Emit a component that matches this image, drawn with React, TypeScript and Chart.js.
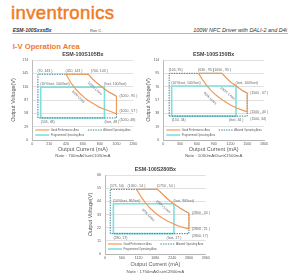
import React, { useEffect, useRef } from "react";
import { Chart, registerables } from "chart.js";

Chart.register(...registerables);

type XY = [number, number];
type Tag = [number, number, string, string];
type Slant = [number, number, string, number];

const FONT = "'Liberation Sans', Arial, sans-serif";
const ORANGE = "#f39a58";
const CYAN = "#7fdfdf";
const DOTTED = "#3a7c8e";
const TEXT = "#585858";

// ---------- ESM-100S105Bx ----------
const s105CurrentTicks = [0, 210, 420, 630, 840, 1050, 1260];
const s105VoltageTicks = [0, 29, 58, 87, 116, 145, 174];
const s105Good: XY[] = [
  [420, 143], [700, 143], [750, 133], [800, 125], [850, 118], [900, 111], [950, 105], [1000, 100], [1050, 95],
  [1050, 57], [960, 63], [900, 67], [840, 71], [780, 77], [720, 83], [660, 91], [600, 100], [540, 111], [480, 125], [420, 143],
];
const s105Allowed: XY[] = [
  [70, 48], [70, 143], [700, 143], [750, 133], [800, 125], [850, 118], [900, 111], [950, 105], [1000, 100], [1050, 95],
  [1050, 48], [70, 48],
];
const s105Programmed: XY[] = [[105, 48], [105, 115], [900, 115], [900, 48], [105, 48]];
const s105Tags: Tag[] = [
  [70, 143, "(70, 143 )", "n"],
  [420, 143, "(420, 143 )", "n"],
  [700, 143, "(700, 143 )", "ne2"],
  [105, 115, "(10%Iset, 100/Iset)", "n"],
  [900, 115, "(Iset, 100/Iset)", "n"],
  [1050, 95, "(1050 , 95 )", "e"],
  [1050, 57, "(1050 , 57 )", "ne"],
  [1050, 48, "(1050, 48)", "se"],
  [105, 48, "(105, 48)", "s"],
  [900, 48, "(Iset, 48 )", "s"],
];
const s105Slants: Slant[] = [
  [780, 112, "100% Lines", 42],
  [575, 94, "60% Lines", 44],
];

// ---------- ESM-100S150Bx ----------
const s150CurrentTicks = [0, 300, 600, 900, 1200, 1500, 1800];
const s150VoltageTicks = [0, 19, 38, 57, 76, 95, 114];
const s150Good: XY[] = [
  [630, 95], [1050, 95], [1110, 90], [1170, 85], [1230, 81], [1290, 78], [1350, 74], [1420, 70], [1500, 67],
  [1500, 40], [1400, 43], [1300, 46], [1200, 50], [1100, 55], [1020, 59], [940, 64], [860, 70], [780, 77], [700, 86], [630, 95],
];
const s150Allowed: XY[] = [
  [105, 34], [105, 95], [1050, 95], [1110, 90], [1170, 85], [1230, 81], [1290, 78], [1350, 74], [1420, 70], [1500, 67],
  [1500, 34], [105, 34],
];
const s150Programmed: XY[] = [[150, 34], [150, 77], [1300, 77], [1300, 34], [150, 34]];
const s150Tags: Tag[] = [
  [105, 95, "(105, 95)", "n"],
  [630, 95, "(630 , 95 )", "n"],
  [1050, 95, "(1050 , 95 )", "nc"],
  [150, 77, "(10%Iset, 100/Iset)", "n"],
  [1300, 77, "(Iset, 100/Iset)", "n"],
  [1500, 67, "(1500 , 67 )", "e"],
  [1500, 40, "(1500 , 40 )", "e"],
  [1500, 34, "(1500, 34)", "se"],
  [150, 34, "(150, 34)", "s"],
  [1300, 34, "(Iset, 34 )", "sc"],
];
const s150Slants: Slant[] = [
  [1152, 66.5, "100% Lines", 40],
  [835, 59.4, "60% Lines", 44],
];

// ---------- ESM-100S280Bx ----------
const s280CurrentTicks = [0, 560, 1120, 1680, 2240, 2800, 3360];
const s280VoltageTicks = [0, 11, 22, 33, 44, 55, 66];
const s280Good: XY[] = [
  [1050, 54], [1750, 54], [1900, 50.5], [2050, 46.8], [2200, 43.6], [2350, 40.9], [2500, 38.4], [2650, 36.2], [2800, 34],
  [2800, 21], [2500, 23], [2300, 25], [2100, 27.4], [1950, 29.5], [1800, 32], [1650, 34.9], [1500, 38.4], [1350, 42.7], [1200, 48], [1050, 54],
];
const s280Allowed: XY[] = [
  [175, 17], [175, 54], [1750, 54], [1900, 50.5], [2050, 46.8], [2200, 43.6], [2350, 40.9], [2500, 38.4], [2650, 36.2], [2800, 34],
  [2800, 17], [175, 17],
];
const s280Programmed: XY[] = [[280, 17], [280, 42], [2300, 42], [2300, 17], [280, 17]];
const s280Tags: Tag[] = [
  [175, 54, "(175, 54)", "n"],
  [1050, 54, "(1050 , 54 )", "nc"],
  [1750, 54, "(1750 , 54 )", "n"],
  [280, 42, "(10%Iset, 96/Iset)", "n"],
  [2300, 42, "(Iset, 96/Iset)", "n"],
  [2800, 34, "(2800 , 34 )", "e"],
  [2800, 21, "(2800 , 21 )", "e"],
  [2800, 17, "(2800, 17)", "se"],
  [280, 17, "(280, 17)", "s"],
  [2300, 17, "(Iset, 17 )", "sc"],
];
const s280Slants: Slant[] = [
  [1945, 39.5, "100% Lines", 41],
  [1445, 32.6, "60% Lines", 45],
];

// text placement around an anchor point: [align, dx, dy]
const PLACE: Record<string, [CanvasTextAlign, number, number]> = {
  n: ["left", -0.5, -3],
  ne2: ["left", 2.5, -3],
  nc: ["center", 0, -3],
  e: ["left", 3, 0],
  ne: ["left", 3, -2.5],
  se: ["left", 3, 2.5],
  s: ["left", 0, 4],
  sc: ["center", 0, 4],
};

type Spec = {
  title: string;
  note: string;
  xTicks: number[];
  yTicks: number[];
  good: XY[];
  allowed: XY[];
  programmed: XY[];
  tags: Tag[];
  slants: Slant[];
  box: { left: number; top: number; width: number; height: number };
  plot: { left: number; right: number; top: number; bottom: number };
  yTitleX: number;
  xTitleY: number;
  titleY: number;
  noteY: number;
};

const AXIS_TITLE_SIZE = 5.5;

const decor = {
  id: "decor",
  afterDatasetsDraw(chart: any, _args: any, o: any) {
    const { ctx, chartArea: a, scales } = chart;
    const xs = scales.x;
    const ys = scales.y;
    ctx.save();
    ctx.fillStyle = "#666";
    ctx.textBaseline = "middle";
    ctx.font = `3.5px ${FONT}`;
    for (const [vx, vy, text, p] of o.tags as Tag[]) {
      const [align, dx, dy] = PLACE[p];
      ctx.textAlign = align;
      ctx.fillText(text, xs.getPixelForValue(vx) + dx, ys.getPixelForValue(vy) + dy);
    }
    for (const [vx, vy, text, deg] of o.slants as Slant[]) {
      ctx.save();
      ctx.translate(xs.getPixelForValue(vx), ys.getPixelForValue(vy));
      ctx.rotate((deg * Math.PI) / 180);
      ctx.textAlign = "center";
      ctx.fillText(text, 0, 0);
      ctx.restore();
    }

    // legend inside the plot
    const ds = chart.data.datasets;
    const rows: [any, number, number][] = [
      [ds[0], a.left + 3, a.bottom - 10],
      [ds[1], a.left + a.width * 0.55, a.bottom - 10],
      [ds[2], a.left + 3, a.bottom - 5],
    ];
    ctx.font = `2.6px ${FONT}`;
    ctx.textAlign = "left";
    ctx.fillStyle = TEXT;
    for (const [d, lx, ly] of rows) {
      ctx.save();
      ctx.strokeStyle = d.borderColor;
      ctx.lineWidth = d.borderWidth;
      ctx.setLineDash(d.borderDash || []);
      ctx.beginPath();
      ctx.moveTo(lx, ly);
      ctx.lineTo(lx + 14, ly);
      ctx.stroke();
      ctx.restore();
      ctx.fillText(d.label, lx + 15.5, ly);
    }

    const cx = (a.left + a.right) / 2;
    ctx.textAlign = "center";
    ctx.fillStyle = "#3f3f3f";
    ctx.font = `bold 5.3px ${FONT}`;
    ctx.fillText(o.title, cx, o.titleY);
    ctx.fillStyle = TEXT;
    ctx.font = `4.4px ${FONT}`;
    ctx.fillText(o.note, cx, o.noteY);
    ctx.restore();
  },
};

const pts = (arr: XY[]) => arr.map(([x, y]) => ({ x, y }));

function buildConfig(s: Spec): any {
  const p = s.plot;
  const b = s.box;
  const half = AXIS_TITLE_SIZE * 0.6;
  const axisBottom = s.xTitleY + half;
  const tickFont = { family: FONT, size: 3.6 };
  const titleFont = { family: FONT, size: AXIS_TITLE_SIZE };
  const plain = (v: any) => String(v);
  return {
    type: "scatter",
    data: {
      datasets: [
        { label: "Good Performance Area", data: pts(s.good), borderColor: ORANGE, borderWidth: 1.2, showLine: true },
        {
          label: "Allowed Operating Area",
          data: pts(s.allowed),
          borderColor: DOTTED,
          borderWidth: 1,
          borderDash: [1.4, 1.1],
          showLine: true,
        },
        { label: "Programmed Operating Area", data: pts(s.programmed), borderColor: CYAN, borderWidth: 1.6, showLine: true },
      ],
    },
    options: {
      animation: false,
      responsive: false,
      devicePixelRatio: 1,
      events: [],
      elements: {
        point: { radius: 0, hoverRadius: 0 },
        line: { tension: 0, fill: false, borderJoinStyle: "round" },
      },
      layout: {
        padding: { left: 0, top: p.top, right: b.width - p.right, bottom: b.height - axisBottom },
      },
      plugins: {
        legend: { display: false },
        tooltip: { enabled: false },
        decor: { tags: s.tags, slants: s.slants, title: s.title, note: s.note, titleY: s.titleY, noteY: s.noteY },
      },
      scales: {
        x: {
          type: "linear",
          min: s.xTicks[0],
          max: s.xTicks[s.xTicks.length - 1],
          afterBuildTicks: (sc: any) => {
            sc.ticks = s.xTicks.map((v) => ({ value: v }));
          },
          afterFit: (sc: any) => {
            sc.height = axisBottom - p.bottom;
          },
          grid: { display: false, drawTicks: false },
          border: { color: "#a9a9a9", width: 0.8 },
          ticks: { font: tickFont, color: TEXT, padding: 2, maxRotation: 0, autoSkip: false, callback: plain },
          title: { display: true, text: "Output Current (mA)", font: titleFont, color: TEXT, padding: 0 },
        },
        y: {
          type: "linear",
          min: s.yTicks[0],
          max: s.yTicks[s.yTicks.length - 1],
          afterBuildTicks: (sc: any) => {
            sc.ticks = s.yTicks.map((v) => ({ value: v }));
          },
          afterFit: (sc: any) => {
            sc.width = p.left;
          },
          grid: { color: "#d9d9d9", lineWidth: 0.8, drawTicks: false },
          border: { color: "#a9a9a9", width: 0.8 },
          ticks: { font: tickFont, color: TEXT, padding: 4, autoSkip: false, callback: plain },
          title: {
            display: true,
            text: "Output Voltage(V)",
            font: titleFont,
            color: TEXT,
            padding: { top: Math.max(0, s.yTitleX - half), bottom: 0 },
          },
        },
      },
    },
    plugins: [decor],
  };
}

const specs: Spec[] = [
  {
    title: "ESM-100S105Bx",
    note: "Note : 700mA≤Iset≤1050mA",
    xTicks: s105CurrentTicks,
    yTicks: s105VoltageTicks,
    good: s105Good,
    allowed: s105Allowed,
    programmed: s105Programmed,
    tags: s105Tags,
    slants: s105Slants,
    box: { left: 0, top: 45, width: 145, height: 115 },
    plot: { left: 32.3, right: 133.3, top: 15, bottom: 95 },
    yTitleX: 13,
    xTitleY: 104.5,
    titleY: 9.3,
    noteY: 111,
  },
  {
    title: "ESM-100S150Bx",
    note: "Note : 1050mA≤Iset≤1500mA",
    xTicks: s150CurrentTicks,
    yTicks: s150VoltageTicks,
    good: s150Good,
    allowed: s150Allowed,
    programmed: s150Programmed,
    tags: s150Tags,
    slants: s150Slants,
    box: { left: 145, top: 45, width: 155, height: 115 },
    plot: { left: 18.3, right: 119, top: 15, bottom: 95 },
    yTitleX: 3.3,
    xTitleY: 104.3,
    titleY: 9.3,
    noteY: 110.5,
  },
  {
    title: "ESM-100S280Bx",
    note: "Note : 1750mA≤Iset≤2800mA",
    xTicks: s280CurrentTicks,
    yTicks: s280VoltageTicks,
    good: s280Good,
    allowed: s280Allowed,
    programmed: s280Programmed,
    tags: s280Tags,
    slants: s280Slants,
    box: { left: 60, top: 160, width: 180, height: 117 },
    plot: { left: 45, right: 145.7, top: 15, bottom: 94 },
    yTitleX: 30,
    xTitleY: 104.3,
    titleY: 9.3,
    noteY: 111.3,
  },
];

function IVChart({ spec }: { spec: Spec }) {
  const ref = useRef<HTMLCanvasElement>(null);
  useEffect(() => {
    if (!ref.current) return;
    const chart = new Chart(ref.current, buildConfig(spec));
    return () => chart.destroy();
  }, [spec]);
  const b = spec.box;
  return (
    <canvas
      ref={ref}
      width={b.width}
      height={b.height}
      style={{ position: "absolute", left: b.left, top: b.top, width: b.width, height: b.height, display: "block" }}
    />
  );
}

const BRAND = "#f07c1f";

export default function App() {
  return (
    <div
      style={{
        position: "absolute",
        left: 0,
        top: 0,
        width: 300,
        height: 277,
        background: "#fff",
        overflow: "hidden",
        fontFamily: FONT,
      }}
    >
      <div
        style={{
          position: "absolute",
          left: 11,
          top: 2,
          fontSize: 18.5,
          lineHeight: "22px",
          color: BRAND,
          letterSpacing: 0.4,
          WebkitTextStroke: "0.5px " + BRAND,
        }}
      >
        inventronics
      </div>
      <div
        style={{ position: "absolute", left: 12.7, top: 26.7, fontSize: 5, lineHeight: "6px", fontStyle: "italic", fontWeight: "bold", color: "#333", whiteSpace: "nowrap" }}
      >
        ESM-100SxxxBx
      </div>
      <div style={{ position: "absolute", left: 90, top: 28, fontSize: 4, lineHeight: "5px", color: "#444", whiteSpace: "nowrap" }}>Rev C</div>
      <div
        style={{ position: "absolute", right: 13, top: 26.5, fontSize: 5.5, lineHeight: "6px", fontStyle: "italic", color: "#333", whiteSpace: "nowrap" }}
      >
        100W NFC Driver with DALI-2 and D4i
      </div>
      <div style={{ position: "absolute", left: 12, top: 33, width: 276, height: 0.8, background: "#f4a56e" }} />
      <div
        style={{ position: "absolute", left: 12.7, top: 41.5, fontSize: 7.7, lineHeight: "9px", fontWeight: "bold", color: BRAND, whiteSpace: "nowrap" }}
      >
        I-V Operation Area
      </div>
      {specs.map((s) => (
        <IVChart key={s.title} spec={s} />
      ))}
    </div>
  );
}
